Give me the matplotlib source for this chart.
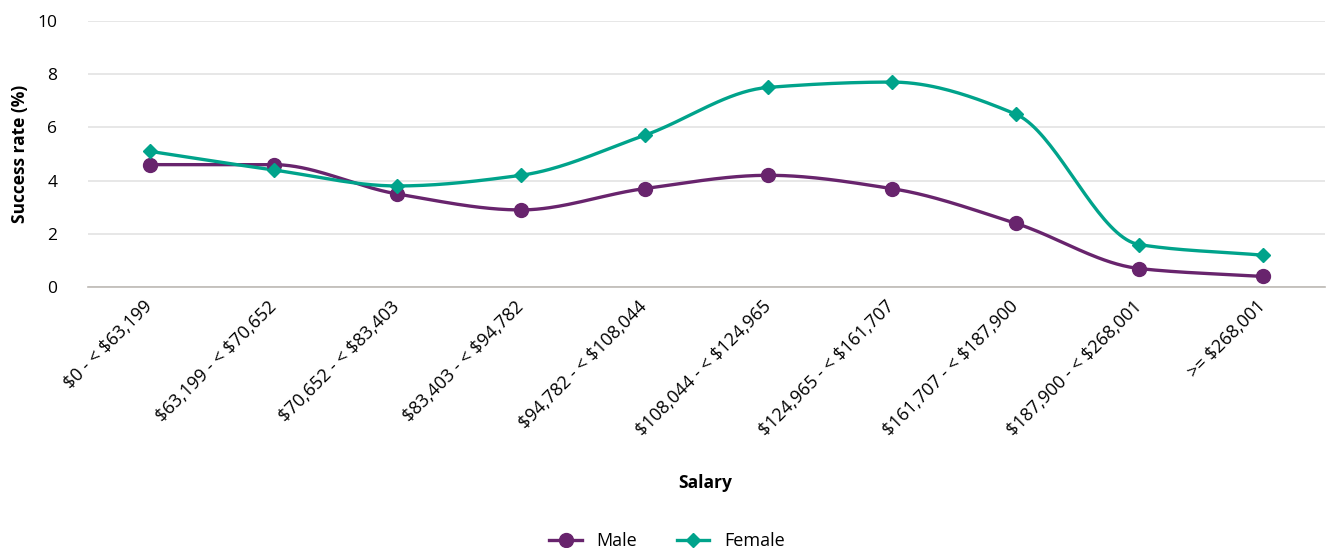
import numpy as np
import matplotlib.pyplot as plt
from matplotlib.lines import Line2D

categories = ["$0 - < $63,199", "$63,199 - < $70,652", "$70,652 - < $83,403",
              "$83,403 - < $94,782", "$94,782 - < $108,044", "$108,044 - < $124,965",
              "$124,965 - < $161,707", "$161,707 - < $187,900", "$187,900 - < $268,001",
              ">= $268,001"]
male = [4.6, 4.6, 3.5, 2.9, 3.7, 4.2, 3.7, 2.4, 0.7, 0.4]
female = [5.1, 4.4, 3.8, 4.2, 5.7, 7.5, 7.7, 6.5, 1.6, 1.2]

purple = "#68246D"
teal = "#00A38B"

plt.rcParams['font.family'] = ['Open Sans', 'DejaVu Sans']
plt.rcParams['text.parse_math'] = False


def smooth(x, y, n=40):
    # monotone cubic (Fritsch-Carlson) to get a smoothed line without overshoot
    x = np.asarray(x, float)
    y = np.asarray(y, float)
    h = np.diff(x)
    d = np.diff(y) / h
    m = np.zeros_like(y)
    m[0], m[-1] = d[0], d[-1]
    for i in range(1, len(y) - 1):
        if d[i - 1] * d[i] <= 0:
            m[i] = 0
        else:
            m[i] = 2 / (1 / d[i - 1] + 1 / d[i])
    px, py = [], []
    for i in range(len(x) - 1):
        t = np.linspace(0, 1, n)
        h00 = 2 * t ** 3 - 3 * t ** 2 + 1
        h10 = t ** 3 - 2 * t ** 2 + t
        h01 = -2 * t ** 3 + 3 * t ** 2
        h11 = t ** 3 - t ** 2
        px.extend(x[i] + t * h[i])
        py.extend(h00 * y[i] + h10 * h[i] * m[i] + h01 * y[i + 1] + h11 * h[i] * m[i + 1])
    return px, py


fig = plt.figure(figsize=(13.34, 5.48), dpi=100)
ax = fig.add_axes([0.066, 0.476, 0.927, 0.486])

xs = np.arange(len(categories))
for vals, col, mk, ms in [(male, purple, 'o', 10), (female, teal, 'D', 7)]:
    sx, sy = smooth(xs, vals)
    ax.plot(sx, sy, color=col, lw=2.4, solid_capstyle='round', zorder=3)
    ax.plot(xs, vals, linestyle='none', marker=mk, color=col, markersize=ms, zorder=4)

ax.set_xlim(-0.5, len(categories) - 0.5)
ax.set_ylim(0, 10)
ax.set_yticks([0, 2, 4, 6, 8, 10])
ax.set_xticks(xs)
ax.set_xticklabels(categories, rotation=45, ha='right', va='center',
                   rotation_mode='anchor', fontsize=13)
ax.tick_params(axis='y', labelsize=12.5, length=0, pad=22)
ax.tick_params(axis='x', length=0, pad=12)
ax.grid(axis='y', color='#e3e3e3', lw=1.2)
ax.set_axisbelow(True)
for s in ['top', 'right', 'left']:
    ax.spines[s].set_visible(False)
ax.spines['bottom'].set_color('#bdbab5')
ax.spines['bottom'].set_linewidth(1.2)

ax.set_ylabel("Success rate (%)", fontsize=12.5, fontweight='bold', labelpad=6)
fig.text(0.529, 0.118, "Salary", ha='center', va='center', fontsize=12.5, fontweight='bold')

handles = [Line2D([], [], color=purple, marker='o', lw=2.4, markersize=10),
           Line2D([], [], color=teal, marker='D', lw=2.4, markersize=7)]
fig.legend(handles, ["Male", "Female"], loc='center', bbox_to_anchor=(0.5, 0.013),
           ncol=2, frameon=False, fontsize=13, handlelength=1.8, columnspacing=2.2)

fig.savefig("out.png", dpi=100)
